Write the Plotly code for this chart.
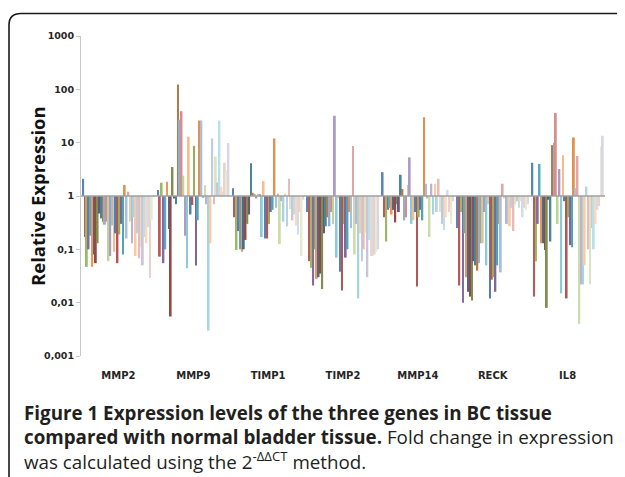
import plotly.graph_objects as go

# ---------------- data (relative expression, 40 patients per gene) ----------------
GENES = ["MMP2", "MMP9", "TIMP1", "TIMP2", "MMP14", "RECK", "IL8"]

MMP2 = [2.1, 0.17, 0.047, 0.1, 0.18, 0.047, 0.08, 0.055, 0.13, 0.47,
        0.38, 0.33, 0.29, 0.33, 0.06, 0.075, 0.28, 0.09, 0.2, 0.055,
        0.19, 0.3, 0.08, 1.6, 0.16, 1.2, 0.33, 0.13, 0.4, 0.075,
        0.2, 0.068, 0.11, 0.05, 0.17, 0.13, 0.26, 0.029, 0.35, 0.97]
MMP9 = [1.3, 0.073, 1.78, 0.055, 0.1, 1.85, 0.24, 0.0055, 3.5, 0.9,
        0.7, 123, 27, 39, 2.4, 0.18, 0.044, 13, 0.45, 0.68,
        8.7, 0.05, 0.35, 26, 26, 0.95, 1.6, 0.7, 0.003, 0.13,
        12, 0.7, 5.5, 1.8, 26, 1.5, 1.2, 4.2, 3.1, 9.8]
TIMP1 = [1.4, 0.4, 0.097, 0.22, 0.1, 0.09, 0.1, 0.15, 0.3, 0.45,
         4.1, 1.15, 1.1, 0.9, 1.1, 1.05, 0.17, 1.9, 0.16, 0.16,
         0.3, 0.5, 0.55, 12, 0.6, 1.1, 0.125, 0.8, 0.33, 1.1,
         0.27, 2.1, 0.57, 0.35, 0.45, 0.28, 0.19, 0.5, 0.075, 0.85]
TIMP2 = [0.5, 0.06, 0.045, 0.021, 0.1, 0.028, 0.03, 0.035, 0.018, 0.2,
         0.27, 0.4, 0.27, 0.5, 0.3, 32, 0.07, 0.9, 0.038, 0.017,
         0.3, 0.07, 0.1, 0.5, 0.25, 8.7, 0.08, 0.3, 0.012, 0.2,
         0.06, 0.1, 0.2, 0.03, 0.15, 0.075, 0.075, 0.08, 0.09, 0.1]
MMP14 = [2.8, 0.4, 0.14, 0.55, 0.6, 0.45, 0.55, 0.32, 0.7, 0.5,
         2.5, 1.35, 0.35, 0.4, 1.6, 5.3, 0.3, 0.35, 0.5, 0.02,
         0.4, 0.55, 0.35, 30, 1.7, 0.9, 0.17, 1.7, 0.45, 1.7,
         0.5, 2.1, 0.5, 0.3, 0.23, 0.4, 1.3, 0.5, 0.3, 0.8]
RECK = [0.25, 0.021, 0.5, 0.01, 0.2, 0.03, 0.016, 0.013, 0.011, 0.06,
        0.05, 0.04, 0.055, 0.13, 0.13, 0.5, 0.05, 0.7, 0.012, 0.027,
        0.03, 0.016, 0.05, 0.3, 0.037, 1.7, 0.9, 0.3, 0.3, 0.27,
        0.6, 0.22, 0.7, 0.8, 0.6, 0.8, 0.4, 0.6, 0.55, 0.7]
IL8 = [4.2, 0.013, 0.06, 0.3, 4.0, 0.13, 0.13, 0.097, 0.008, 0.85,
       0.14, 9, 10, 36, 0.3, 3.2, 0.015, 5.8, 0.8, 0.012,
       0.4, 0.12, 0.11, 12.5, 1.4, 5.6, 0.004, 0.022, 0.022, 0.05,
       1.5, 0.1, 0.022, 0.25, 0.1, 0.3, 0.55, 0.65, 8.5, 13.5]

GENE_VALUES = [MMP2, MMP9, TIMP1, TIMP2, MMP14, RECK, IL8]

TICK_VALUES = [0.001, 0.01, 0.1, 1, 10, 100, 1000]
TICK_LABELS = ["0,001", "0,01", "0,1", "1", "10", "100", "1000"]

CAPTION_LINES = [
    "<b>Figure 1 Expression levels of the three genes in BC tissue</b>",
    "<b>compared with normal bladder tissue.</b> Fold change in expression",
    "was calculated using the 2<sup>-ΔΔCT</sup> method.",
]

# ---------------- styling ----------------
BASE_COLORS = ["#4F81BD", "#C0504D", "#9BBB59", "#8064A2", "#4BACC6", "#F79646"]
BLOCKS = [("s", 0.95), ("s", 0.72), ("t", 0.3), ("s", 0.9), ("t", 0.45), ("t", 0.58), ("t", 0.7)]
SOFTEN = 0.08  # slight wash towards white, like the scanned figure


def patient_color(i):
    block, k = divmod(i, 6)
    mode, f = BLOCKS[block]
    h = BASE_COLORS[k].lstrip("#")
    r, g, b = (int(h[j:j + 2], 16) for j in (0, 2, 4))
    if mode == "s":
        r, g, b = r * f, g * f, b * f
    else:
        r, g, b = r + (255 - r) * f, g + (255 - g) * f, b + (255 - b) * f
    r, g, b = (c + (255 - c) * SOFTEN for c in (r, g, b))
    return "rgb(%d,%d,%d)" % (round(r), round(g), round(b))


# the page body has an 8 px margin: size the figure so it fits the 625x477 window
OFF = 8
W, H = 625 - OFF, 477 - OFF
L, R, T, B = 81 - OFF, 20, 36 - OFF, 121
PW, PH = W - L - R, H - T - B


def px(x):  # window pixel -> paper x
    return (x - OFF - L) / PW


def py(y):  # window pixel -> paper y
    return (H - B - (y - OFF)) / PH


fig = go.Figure()
n_patients = len(MMP2)
for j in range(n_patients):
    vals = [gv[j] for gv in GENE_VALUES]
    fig.add_trace(go.Bar(
        x=GENES,
        y=[v - 1 for v in vals],
        base=1,
        marker=dict(color=patient_color(j), line=dict(width=0)),
        customdata=vals,
        hovertemplate="%{x}: %{customdata}<extra></extra>",
        showlegend=False,
    ))

fig.update_layout(
    width=W, height=H,
    margin=dict(l=L, r=R, t=T, b=B),
    paper_bgcolor="white", plot_bgcolor="white",
    barmode="group", bargap=0.035, bargroupgap=0,
    showlegend=False,
    xaxis=dict(
        type="category", showline=False, showgrid=False, zeroline=False,
        ticks="", tickfont=dict(family="DejaVu Sans", size=10, color="#262626", weight="bold"),
        ticklabelstandoff=12,
    ),
    yaxis=dict(
        type="log", range=[-3, 3],
        tickvals=TICK_VALUES, ticktext=TICK_LABELS,
        showline=True, linecolor="#C8C8C8", linewidth=1,
        ticks="outside", ticklen=4, tickcolor="#C8C8C8",
        showgrid=False, zeroline=False,
        tickfont=dict(family="DejaVu Sans", size=9.5, color="#262626", weight="bold"),
    ),
    shapes=[
        dict(type="line", xref="x domain", yref="y", x0=0, x1=1, y0=1, y1=1,
             line=dict(color="#A0A0A0", width=1.6)),
        dict(type="path", xref="paper", yref="paper",
             path="M %f %f L %f %f Q %f %f %f %f L %f %f" % (
                 px(9), py(490), px(9), py(25), px(9), py(13.5), px(21), py(13.5), px(640), py(13.5)),
             line=dict(color="#1a1a1a", width=1.6)),
    ],
    annotations=[
        dict(xref="paper", yref="paper", x=px(37), y=0.5, xanchor="center", yanchor="middle",
             showarrow=False, textangle=-90,
             text="<b>Relative Expression</b>",
             font=dict(family="Open Sans", size=18.5, color="#111111")),
        dict(xref="paper", yref="paper", x=px(22), y=py(398), xanchor="left", yanchor="top",
             showarrow=False, align="left",
             text="<br>".join(CAPTION_LINES),
             font=dict(family="Open Sans", size=18.8, color="#231F20")),
    ],
)

fig.write_html("out.html")
